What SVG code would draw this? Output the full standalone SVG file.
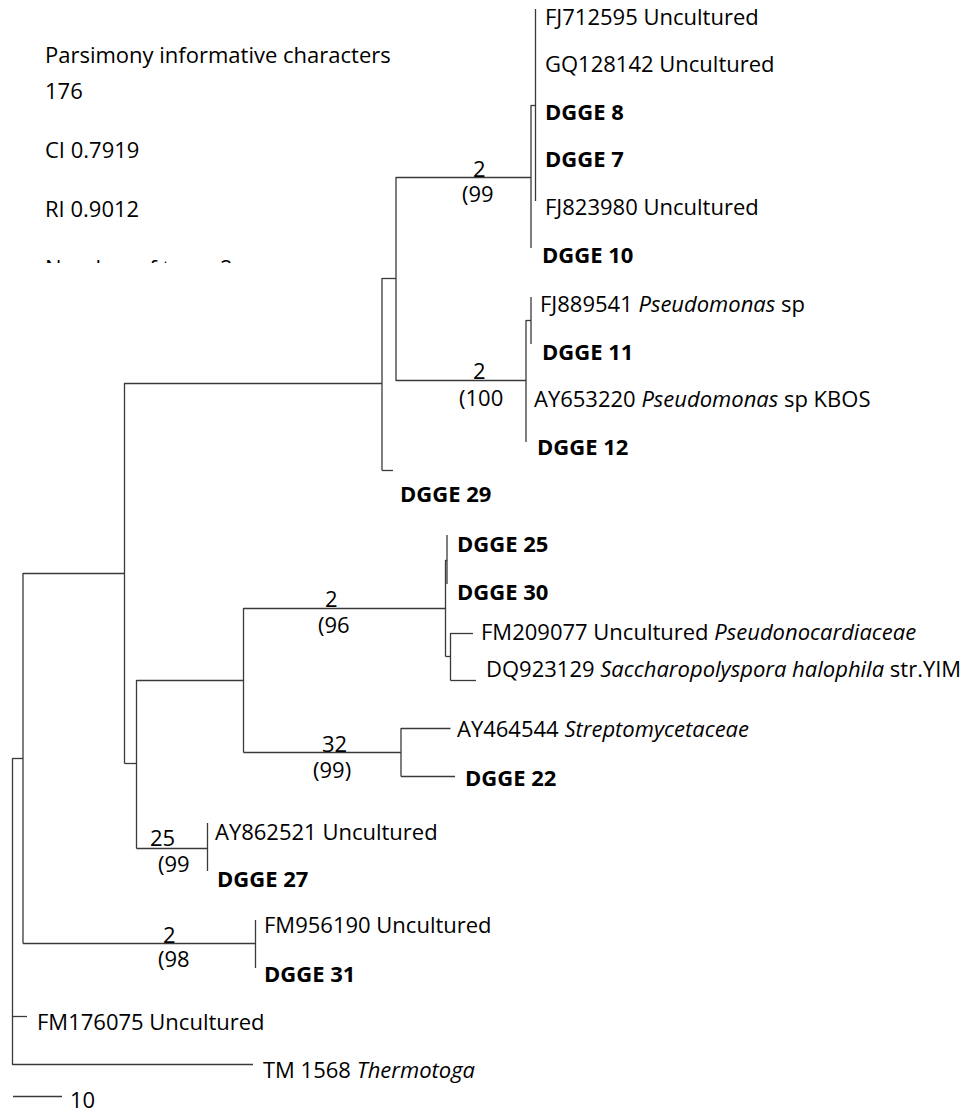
<svg xmlns="http://www.w3.org/2000/svg" width="980" height="1112" viewBox="0 0 980 1112">
<style>
text{font-family:"Open Sans","Liberation Sans",sans-serif;font-size:22px;fill:#000}
.b{font-weight:bold}
.i{font-style:italic}
.conn line{stroke:#3a3a3a;stroke-width:1.3;fill:none}
</style>
<defs>
<clipPath id="cutStats"><rect x="0" y="0" width="420" height="263"/></clipPath>
</defs>
<rect width="980" height="1112" fill="#fff"/>
<g id="stats">
<text x="45" y="63">Parsimony informative characters</text>
<text x="45" y="99">176</text>
<text x="45" y="158">CI 0.7919</text>
<text x="45" y="217">RI 0.9012</text>
<text x="45" y="276" clip-path="url(#cutStats)">Number of trees 2</text>
</g>
<g class="conn" id="connectors">
<line x1="535.5" y1="9" x2="535.5" y2="201"/>
<line x1="531" y1="105.5" x2="535.5" y2="105.5"/>
<line x1="531" y1="105" x2="531" y2="248"/>
<line x1="396" y1="177.5" x2="531" y2="177.5"/>
<line x1="531" y1="297" x2="531" y2="344"/>
<line x1="526" y1="320.5" x2="531" y2="320.5"/>
<line x1="526" y1="320" x2="526" y2="442"/>
<line x1="396" y1="380.5" x2="526" y2="380.5"/>
<line x1="396" y1="177" x2="396" y2="381"/>
<line x1="382" y1="278.5" x2="396" y2="278.5"/>
<line x1="382" y1="278" x2="382" y2="470.5"/>
<line x1="382" y1="470.5" x2="393" y2="470.5"/>
<line x1="124" y1="383.5" x2="382" y2="383.5"/>
<line x1="124.5" y1="383" x2="124.5" y2="763.5"/>
<line x1="23" y1="573.5" x2="124.5" y2="573.5"/>
<line x1="124.5" y1="763.5" x2="136.5" y2="763.5"/>
<line x1="136.5" y1="680" x2="136.5" y2="848.5"/>
<line x1="136.5" y1="680.5" x2="243.5" y2="680.5"/>
<line x1="243.5" y1="608" x2="243.5" y2="752.5"/>
<line x1="243.5" y1="608.5" x2="445.5" y2="608.5"/>
<line x1="445.5" y1="560" x2="445.5" y2="656.5"/>
<line x1="447" y1="535" x2="447" y2="584"/>
<line x1="445.5" y1="560.5" x2="447" y2="560.5"/>
<line x1="445.5" y1="656.5" x2="450.5" y2="656.5"/>
<line x1="450.5" y1="633" x2="450.5" y2="680.5"/>
<line x1="450.5" y1="633.5" x2="473" y2="633.5"/>
<line x1="450.5" y1="680.5" x2="476" y2="680.5"/>
<line x1="243.5" y1="752.5" x2="401" y2="752.5"/>
<line x1="401" y1="728" x2="401" y2="776.5"/>
<line x1="401" y1="728.5" x2="450.5" y2="728.5"/>
<line x1="401" y1="776.5" x2="455" y2="776.5"/>
<line x1="136.5" y1="848.5" x2="207.5" y2="848.5"/>
<line x1="207.5" y1="823" x2="207.5" y2="871"/>
<line x1="23" y1="573" x2="23" y2="943.5"/>
<line x1="23" y1="943.5" x2="255.5" y2="943.5"/>
<line x1="255.5" y1="920" x2="255.5" y2="968"/>
<line x1="12.5" y1="758.5" x2="23" y2="758.5"/>
<line x1="12.5" y1="758" x2="12.5" y2="1065"/>
<line x1="12.5" y1="1016.5" x2="27" y2="1016.5"/>
<line x1="12.5" y1="1064.5" x2="253" y2="1064.5"/>
<line x1="13" y1="1096.5" x2="62" y2="1096.5"/>
</g>
<g id="support-labels">
<text x="473" y="177">2</text>
<text x="462" y="202">(99</text>
<text x="473" y="379">2</text>
<text x="459" y="406">(100</text>
<text x="325" y="607">2</text>
<text x="318" y="633">(96</text>
<text x="322" y="752">32</text>
<text x="313" y="778">(99)</text>
<text x="150" y="846">25</text>
<text x="158" y="872">(99</text>
<text x="163" y="943">2</text>
<text x="158" y="967">(98</text>
</g>
<g id="FJ712595"><text x="545" y="25">FJ712595 Uncultured</text></g>
<g id="GQ128142"><text x="545" y="72">GQ128142 Uncultured</text></g>
<g id="DGGE8"><text class="b" x="545" y="120">DGGE 8</text></g>
<g id="DGGE7"><text class="b" x="545" y="167">DGGE 7</text></g>
<g id="FJ823980"><text x="545" y="215">FJ823980 Uncultured</text></g>
<g id="DGGE10"><text class="b" x="542" y="263">DGGE 10</text></g>
<g id="FJ889541"><text x="540" y="312">FJ889541 <tspan class="i">Pseudomonas</tspan> sp</text></g>
<g id="DGGE11"><text class="b" x="542" y="360">DGGE 11</text></g>
<g id="AY653220"><text x="534" y="407">AY653220 <tspan class="i">Pseudomonas</tspan> sp KBOS</text></g>
<g id="DGGE12"><text class="b" x="537" y="455">DGGE 12</text></g>
<g id="DGGE29"><text class="b" x="400" y="502">DGGE 29</text></g>
<g id="DGGE25"><text class="b" x="457" y="552">DGGE 25</text></g>
<g id="DGGE30"><text class="b" x="457" y="600">DGGE 30</text></g>
<g id="FM209077"><text x="481" y="640">FM209077 Uncultured <tspan class="i">Pseudonocardiaceae</tspan></text></g>
<g id="DQ923129"><text x="486" y="677">DQ923129 <tspan class="i">Saccharopolyspora halophila</tspan> str.YIM</text></g>
<g id="AY464544"><text x="457" y="737">AY464544 <tspan class="i">Streptomycetaceae</tspan></text></g>
<g id="DGGE22"><text class="b" x="465" y="786">DGGE 22</text></g>
<g id="AY862521"><text x="215" y="840">AY862521 Uncultured</text></g>
<g id="DGGE27"><text class="b" x="217" y="887">DGGE 27</text></g>
<g id="FM956190"><text x="264" y="933">FM956190 Uncultured</text></g>
<g id="DGGE31"><text class="b" x="264" y="982">DGGE 31</text></g>
<g id="FM176075"><text x="37" y="1030">FM176075 Uncultured</text></g>
<g id="TM1568"><text x="263" y="1078">TM 1568 <tspan class="i">Thermotoga</tspan></text></g>
<g id="scale"><text x="70" y="1108">10</text></g>
</svg>
